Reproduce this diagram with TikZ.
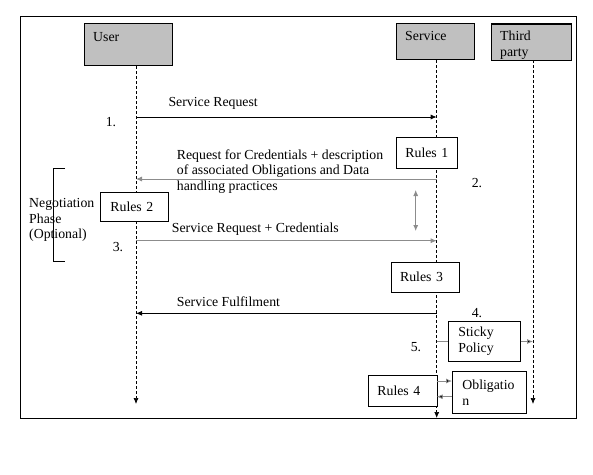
\documentclass[tikz,border=0pt]{standalone}
\usepackage{fontspec}
\setmainfont{Liberation Serif}
\usetikzlibrary{arrows.meta}
\definecolor{boxgray}{HTML}{C0C0C0}
\definecolor{msggray}{HTML}{8C8C8C}
\begin{document}
\begin{tikzpicture}[x=1pt,y=-1pt,
  font=\fontsize{13.8}{15.7}\selectfont,
  actor/.style={draw, fill=boxgray, line width=0.8pt, inner sep=0pt, anchor=north west},
  rulebox/.style={draw, fill=white, line width=0.8pt, align=left, inner xsep=9pt, inner ysep=0pt, anchor=north west},
  life/.style={dash pattern=on 3pt off 2pt, line width=0.7pt},
  tip/.style={-{Latex[length=6pt,width=5pt]}},
  msg/.style={line width=0.8pt, tip},
  gmsg/.style={line width=0.8pt, draw=msggray, -{Latex[length=6pt,width=5pt,fill=msggray]}},
  lbl/.style={inner sep=0pt, anchor=west, align=left},
  num/.style={inner sep=0pt}]
\useasboundingbox (0,0) rectangle (593,474);
% frame
\draw[line width=0.9pt] (20,16) rectangle (576,418);
% actors
\node[actor, minimum width=87.5pt, minimum height=42pt] (user) at (84,23) {};
\node[lbl, anchor=north west] (userlbl) at ([xshift=9pt,yshift=-9pt]user.north west) {User};
\node[actor, minimum width=78pt, minimum height=36.5pt] (service) at (396,22.8) {};
\node[lbl, anchor=north west] (servicelbl) at ([xshift=9pt,yshift=-8pt]service.north west) {Service};
\node[actor, minimum width=79.5pt, minimum height=36pt] (third) at (491,23.7) {};
\begin{scope}
  \clip (third.north west) rectangle (third.south east);
  \node[lbl, anchor=north west] (thirdlbl) at ([xshift=9pt,yshift=-7pt]third.north west) {Third\\party};
\end{scope}
\draw[line width=0.8pt] (third.north west) rectangle (third.south east);
% lifelines
\coordinate (utop) at (136,66);
\coordinate (uend) at (136,404);
\coordinate (stop) at (436.7,60);
\coordinate (send) at (436.7,418);
\coordinate (ttop) at (533,60);
\coordinate (tend) at (533,404);
\draw[life, tip] (utop) -- (uend);
\draw[life, tip] (stop) -- (send);
\draw[life, tip] (ttop) -- (tend);
% message 1
\coordinate (m1u) at (136,117);
\coordinate (m1s) at (436.7,117);
\draw[msg] (m1u) -- (m1s);
\node[lbl] (m1lbl) at (168.3,103) {Service Request};
\node[num] (n1) at (111,122.5) {1.};
% Rules 1
\node[rulebox, minimum width=61pt, minimum height=31pt, text width=43pt] (rules1) at (396,137) {Rules 1};
% message 2
\coordinate (m2s) at (436.7,179);
\coordinate (m2u) at (136,179);
\draw[gmsg] (m2s) -- (m2u);
\node[lbl] (m2lbl) at (176.7,171.5) {Request for Credentials + description\\of associated Obligations and Data\\handling practices};
\node[num] (n2) at (477,183.5) {2.};
% double arrow
\coordinate (da1) at (415.7,190);
\coordinate (da2) at (415.7,231);
\draw[line width=0.8pt, draw=msggray, {Latex[length=6pt,width=5pt,fill=msggray]}-{Latex[length=6pt,width=5pt,fill=msggray]}] (da1) -- (da2);
% Rules 2
\node[rulebox, minimum width=68pt, minimum height=29pt, text width=48pt, inner xsep=10pt] (rules2) at (100,191.7) {Rules 2};
% negotiation bracket
\coordinate (br1) at (65,168.3);
\coordinate (br2) at (53.3,168.3);
\coordinate (br3) at (53.3,261);
\coordinate (br4) at (65,261);
\draw[line width=0.8pt] (br1) -- (br2) -- (br3) -- (br4);
\node[lbl, anchor=north west] (neg) at (29,198) {Negotiation\\Phase\\(Optional)};
% message 3
\coordinate (m3u) at (136,240.7);
\coordinate (m3s) at (436.7,240.7);
\draw[gmsg] (m3u) -- (m3s);
\node[lbl] (m3lbl) at (171.7,229) {Service Request + Credentials};
\node[num] (n3) at (118,246.7) {3.};
% Rules 3
\node[rulebox, minimum width=68.3pt, minimum height=30.3pt, text width=50.3pt] (rules3) at (390.7,261.7) {Rules 3};
% Service fulfilment
\coordinate (m4s) at (436.7,313.3);
\coordinate (m4u) at (136,313.3);
\draw[msg] (m4s) -- (m4u);
\node[lbl] (m4lbl) at (176.7,302) {Service Fulfilment};
\node[num] (n4) at (477,313.5) {4.};
% Sticky policy
\node[rulebox, minimum width=72pt, minimum height=40.3pt, text width=52pt, inner xsep=10pt] (sticky) at (448,320.7) {Sticky\\Policy};
\coordinate (sp1) at (436.7,341.5);
\draw[line width=0.8pt, draw=msggray] (sp1) -- (sticky.west |- sp1);
\coordinate (sp2) at (533,341.5);
\draw[line width=0.8pt, draw=msggray, -{Latex[length=6pt,width=5pt,fill=black]}] (sticky.east |- sp2) -- (sp2);
\node[num] (n5) at (416,346.7) {5.};
% Rules 4 and Obligation
\node[rulebox, minimum width=68.7pt, minimum height=31pt, text width=50.7pt] (rules4) at (368,375) {Rules 4};
\node[rulebox, minimum width=73.7pt, minimum height=42pt, text width=53.7pt, inner xsep=10pt] (obl) at (452,371) {Obligatio\\n};
\coordinate (o1) at (436.7,381);
\coordinate (o2) at (436.7,396.7);
\draw[line width=0.8pt, draw=msggray, -{Latex[length=6pt,width=5pt,fill=black]}] (o1) -- (obl.west |- o1);
\draw[line width=0.8pt, draw=msggray, -{Latex[length=6pt,width=5pt,fill=black]}] (obl.west |- o2) -- (o2);
\end{tikzpicture}
\end{document}
